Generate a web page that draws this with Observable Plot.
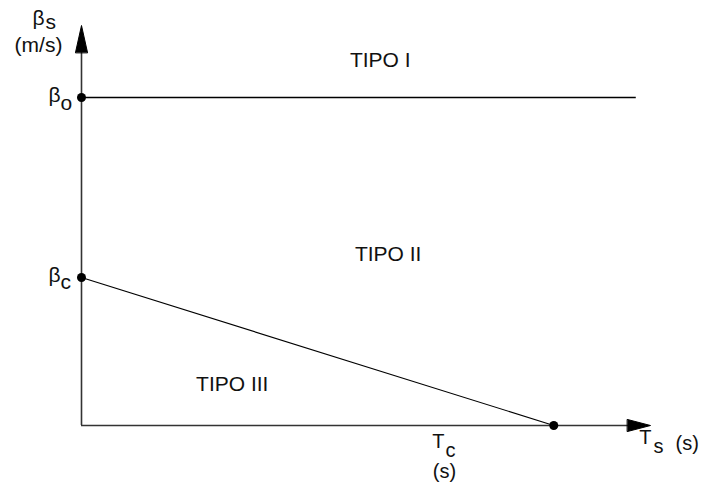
<!DOCTYPE html>
<html>
<head>
<meta charset="utf-8">
<script src="https://cdn.jsdelivr.net/npm/d3@7"></script>
<script src="https://cdn.jsdelivr.net/npm/@observablehq/plot@0.6"></script>
<style>
  html, body { margin: 0; padding: 0; background: #fff; }
  #chart svg { display: block; }
</style>
</head>
<body>
<div id="chart"></div>
<script>
// ---- data (chart units) ----
const axisMax = [10, 10];               // x tip, y tip of axes
const betaO = 8.2;                       // β_o level
const betaC = 3.7;                       // β_c intercept
const Tc = 8.3;                          // T_c intercept
const betaOLineEnd = 9.75;               // end of the β_o line
const keyPoints = [[0, betaO], [0, betaC], [Tc, 0]];
const regionLabels = ["TIPO I", "TIPO II", "TIPO III"];
const regionX = [5.25, 5.39, 2.65];
const regionY = [8.97, 4.12, 0.87];
const tcLabelX = 6.38;

const font = "Liberation Sans, Arial, Helvetica, sans-serif";
const arrowHead = {
  draw(context, l, r) {
    context.moveTo(-r, 0);
    context.lineTo(0, -l);
    context.lineTo(r, 0);
    context.closePath();
  }
};

const regions = regionLabels.map((t, i) => ({t, x: regionX[i], y: regionY[i]}));

const chart = Plot.plot({
  width: 701,
  height: 490,
  marginLeft: 81,
  marginRight: 51,
  marginTop: 25,
  marginBottom: 65,
  x: {domain: [0, axisMax[0]], axis: null},
  y: {domain: [0, axisMax[1]], axis: null},
  style: {fontFamily: font, background: "#fff", overflow: "visible"},
  marks: [
    // axes
    Plot.ruleX([0], {y1: 0, y2: axisMax[1] - 0.5, stroke: "#333", strokeWidth: 1.6}),
    Plot.ruleY([0], {x1: 0, x2: axisMax[0] - 0.3, stroke: "#333", strokeWidth: 1.6}),
    Plot.vector([[0, axisMax[1]]], {x: d => d[0], y: d => d[1], anchor: "end", length: 27, r: 6, rotate: 0, shape: arrowHead, fill: "black", stroke: "black", strokeWidth: 1}),
    Plot.vector([[axisMax[0], 0]], {x: d => d[0], y: d => d[1], anchor: "end", length: 23, r: 6, rotate: 90, shape: arrowHead, fill: "black", stroke: "black", strokeWidth: 1}),
    // lines
    Plot.ruleY([betaO], {x1: 0, x2: betaOLineEnd, stroke: "black", strokeWidth: 1.3}),
    Plot.line([[0, betaC], [Tc, 0]], {stroke: "black", strokeWidth: 1.1}),
    Plot.dot(keyPoints, {x: d => d[0], y: d => d[1], r: 4.5, fill: "black"}),
    // region labels
    Plot.text(regions, {x: "x", y: "y", text: "t", fontSize: 21, lineAnchor: "bottom", fill: "#111"}),
    // y-axis title βs (m/s)
    Plot.text(["β"], {x: () => 0, y: () => axisMax[1], text: d => d, textAnchor: "end", lineAnchor: "bottom", dx: -37, dy: -1, fontSize: 21, fill: "#111"}),
    Plot.text(["s"], {x: () => 0, y: () => axisMax[1], text: d => d, textAnchor: "start", lineAnchor: "bottom", dx: -36, dy: 3, fontSize: 21, fill: "#111"}),
    Plot.text(["(m/s)"], {x: () => 0, y: () => axisMax[1], text: d => d, textAnchor: "middle", lineAnchor: "bottom", dx: -43, dy: 26, fontSize: 21, fill: "#111"}),
    // βo
    Plot.text(["β"], {x: () => 0, y: () => betaO, text: d => d, textAnchor: "end", lineAnchor: "bottom", dx: -21, dy: 4, fontSize: 21, fill: "#111"}),
    Plot.text(["o"], {x: () => 0, y: () => betaO, text: d => d, textAnchor: "start", lineAnchor: "bottom", dx: -21, dy: 12, fontSize: 21, fill: "#111"}),
    // βc
    Plot.text(["β"], {x: () => 0, y: () => betaC, text: d => d, textAnchor: "end", lineAnchor: "bottom", dx: -21, dy: 4, fontSize: 21, fill: "#111"}),
    Plot.text(["c"], {x: () => 0, y: () => betaC, text: d => d, textAnchor: "start", lineAnchor: "bottom", dx: -21, dy: 11, fontSize: 21, fill: "#111"}),
    // Tc (s)
    Plot.text(["T"], {x: () => tcLabelX, y: () => 0, text: d => d, textAnchor: "end", lineAnchor: "bottom", dx: 0, dy: 22, fontSize: 20, fill: "#111"}),
    Plot.text(["c"], {x: () => tcLabelX, y: () => 0, text: d => d, textAnchor: "start", lineAnchor: "bottom", dx: 1, dy: 31, fontSize: 20, fill: "#111"}),
    Plot.text(["(s)"], {x: () => tcLabelX, y: () => 0, text: d => d, textAnchor: "middle", lineAnchor: "bottom", dx: 0, dy: 52, fontSize: 20, fill: "#111"}),
    // Ts (s)
    Plot.text(["T"], {x: () => axisMax[0], y: () => 0, text: d => d, textAnchor: "end", lineAnchor: "bottom", dx: 1, dy: 18, fontSize: 20, fill: "#111"}),
    Plot.text(["s"], {x: () => axisMax[0], y: () => 0, text: d => d, textAnchor: "start", lineAnchor: "bottom", dx: 3, dy: 27, fontSize: 20, fill: "#111"}),
    Plot.text(["(s)"], {x: () => axisMax[0], y: () => 0, text: d => d, textAnchor: "start", lineAnchor: "bottom", dx: 25, dy: 24, fontSize: 20, fill: "#111"})
  ]
});
document.getElementById("chart").appendChild(chart);
</script>
</body>
</html>
